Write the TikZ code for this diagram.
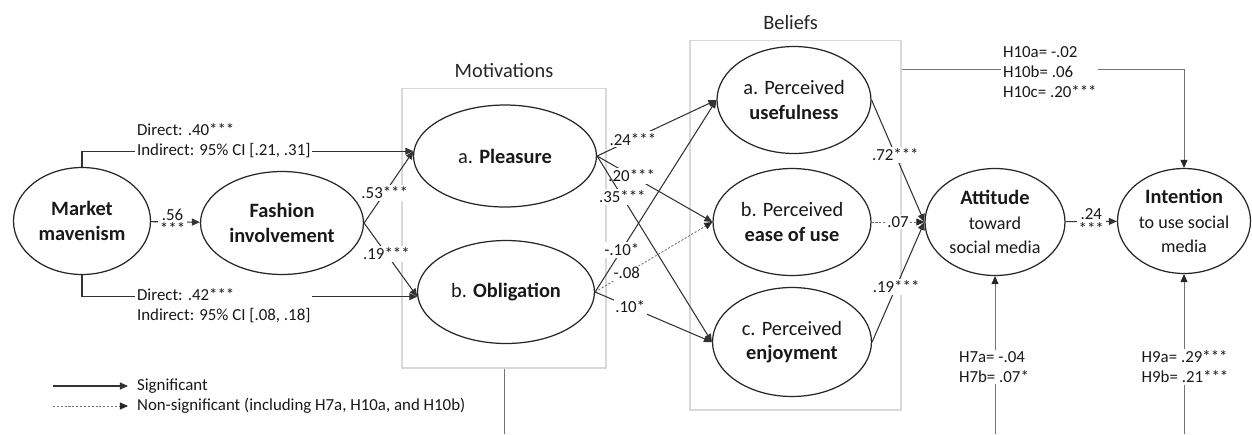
\documentclass[tikz,border=0pt]{standalone}
\usepackage{fontspec}
\setmainfont{Carlito}
\usepackage{xcolor}
\usetikzlibrary{arrows.meta, positioning, shapes.geometric}

\newcommand{\subsz}{\fontsize{10.3}{12.5}\selectfont}

\begin{document}
\begin{tikzpicture}[
    x=0.02cm, y=-0.02cm,
    latent/.style={ellipse, draw=black!85, line width=0.7pt, inner sep=0pt, align=center,
                   font=\fontsize{11.6}{14}\selectfont, text=black!90},
    grp/.style={draw=black!15, line width=0.6pt, inner sep=0pt},
    head/.style={font=\fontsize{11.6}{14}\selectfont, text=black!85},
    lbl/.style={fill=white, inner sep=1pt, align=center,
                font=\fontsize{9.6}{11.4}\selectfont, text=black!90},
    lgd/.style={inner sep=1pt, font=\fontsize{9.6}{11.4}\selectfont, text=black!90},
    arr/.style={-{Triangle[length=1.6mm, width=1.4mm]}, line width=0.6pt, draw=black!80},
    nsarr/.style={-{Triangle[length=1.6mm, width=1.4mm, color=black!85]}, line width=0.5pt,
                  draw=black!55, dash pattern=on 1.2pt off 1pt},
    gline/.style={line width=0.5pt, draw=black!55},
    garr/.style={gline, -{Triangle[length=1.6mm, width=1.4mm, color=black!85]}}
]
\path[use as bounding box, fill=white] (0,0) rectangle (1252,434);
\coordinate (bot) at (0,434);

\node[grp, minimum width=4.08cm, minimum height=5.6cm] (mot) at (504,228) {};
\node[head, above=2pt of mot] (motT) {Motivations};
\node[grp, minimum width=4.22cm, minimum height=7.4cm] (bel) at (795.5,225) {};
\node[head, above=2pt of bel, xshift=-0.1cm] (belT) {Beliefs};

\node[latent, minimum width=2.74cm, minimum height=2.14cm] (mm) at (82,221)
    {\textbf{Market}\\\textbf{mavenism}};
\node[latent, minimum width=3.26cm, minimum height=2.06cm] (fi) at (282,223)
    {\textbf{Fashion}\\\textbf{involvement}};
\node[latent, minimum width=3.66cm, minimum height=2.04cm] (pl) at (505,156) {a. \textbf{Pleasure}};
\node[latent, minimum width=3.54cm, minimum height=2.06cm] (ob) at (506,292) {b. \textbf{Obligation}};
\node[latent, minimum width=3.08cm, minimum height=2.14cm] (pu) at (794,100)
    {a. Perceived\\\textbf{usefulness}};
\node[latent, minimum width=3.16cm, minimum height=2.14cm] (pe) at (792,222)
    {b. Perceived\\\textbf{ease of use}};
\node[latent, minimum width=3.18cm, minimum height=2.18cm] (pj) at (792,342)
    {c. Perceived\\\textbf{enjoyment}};
\node[latent, minimum width=2.8cm, minimum height=2.14cm] (att) at (995,222)
    {\textbf{Attitude}\\\subsz toward\\\subsz social media};
\node[latent, minimum width=2.66cm, minimum height=2.1cm] (int) at (1184,221)
    {\textbf{Intention}\\\subsz to use social\\\subsz media};

\draw[arr] (mm) -- node[lbl, pos=0.44] (l56) {.56\\[-3pt]***} (fi);
\draw[arr] (mm.north) |- (pl.177);
\node[lbl, align=left, anchor=west] (d40) at (135,141) {Direct: .40***\\Indirect: 95\% CI [.21, .31]};
\draw[arr] (mm.south) |- (ob.183);
\node[lbl, align=left, anchor=west] (d42) at (135,306) {Direct: .42***\\Indirect: 95\% CI [.08, .18]};
\draw[arr] (fi.east) -- node[lbl, pos=0.42] (l53) {.53***} (pl.177);
\draw[arr] (fi.east) -- node[lbl, pos=0.42] (l19) {.19***} (ob.183);

\draw[arr] (pl.east) -- node[lbl, pos=0.3] (l24) {.24***} (pu.west);
\draw[arr] (pl.east) -- node[lbl, pos=0.3] (l20) {.20***} (pe.west);
\draw[arr] (pl.east) -- node[lbl, pos=0.22] (l35) {.35***} (pj.west);
\draw[arr] (ob.east) -- node[lbl, pos=0.22] (l10n) {-.10*} (pu.west);
\draw[nsarr] (ob.east) -- node[lbl, pos=0.27] (l08) {-.08} (pe.west);
\draw[arr] (ob.east) -- node[lbl, pos=0.3] (l10) {.10*} (pj.west);

\draw[arr] (pu.east) -- node[lbl, pos=0.45] (l72) {.72***} (att.west);
\draw[nsarr] (pe.east) -- node[lbl, pos=0.5] (l07) {.07} (att.west);
\draw[arr] (pj.east) -- node[lbl, pos=0.46] (l19b) {.19***} (att.west);
\draw[arr] (att) -- node[lbl] (l24b) {.24\\[-3pt]***} (int);

\draw[garr] ([yshift=-0.6cm]bel.north east) -| (int.north);
\node[lbl, align=left, anchor=west] (h10) at (1001,72) {H10a= -.02\\H10b= .06\\H10c= .20***};

\coordinate (h7in) at (att.south |- bot);
\draw[garr] (h7in) -- (att.south);
\node[lbl, align=left] (h7) at (994,367) {H7a= -.04\\H7b= .07*};
\coordinate (h9in) at (int.south |- bot);
\draw[garr] (h9in) -- (int.south);
\node[lbl, align=left] (h9) at (1185,367) {H9a= .29***\\H9b= .21***};
\coordinate (motout) at (mot.south |- bot);
\draw[gline] (mot.south) -- (motout);

\coordinate (sigA) at (53,386);
\node[lgd, anchor=west] (sigT) at (135,386) {Significant};
\draw[arr, shorten >=4pt] (sigA) -- (sigT);
\coordinate (nsA) at (53,406);
\node[lgd, anchor=west] (nsT) at (135,406) {Non-significant (including H7a, H10a, and H10b)};
\draw[nsarr, shorten >=4pt] (nsA) -- (nsT);
\end{tikzpicture}
\end{document}
